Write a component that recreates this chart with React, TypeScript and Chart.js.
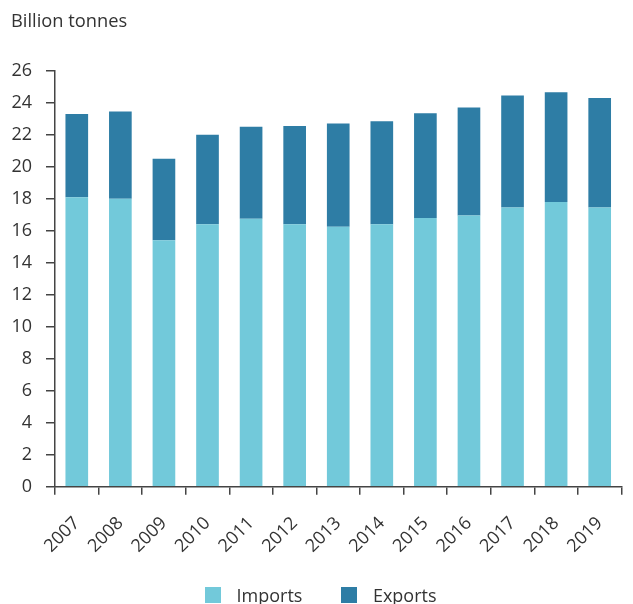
import React, { useEffect, useRef } from "react";
import { Chart, registerables } from "chart.js";

Chart.register(...registerables);

const years = ["2007", "2008", "2009", "2010", "2011", "2012", "2013", "2014", "2015", "2016", "2017", "2018", "2019"];
const imports = [18.1, 18.0, 15.4, 16.4, 16.75, 16.4, 16.25, 16.4, 16.8, 16.95, 17.45, 17.8, 17.45];
const exports = [5.2, 5.45, 5.1, 5.6, 5.75, 6.15, 6.45, 6.45, 6.55, 6.75, 7.0, 6.85, 6.85];
const yTicks = [0, 2, 4, 6, 8, 10, 12, 14, 16, 18, 20, 22, 24, 26];
const seriesNames = ["Imports", "Exports"];
const seriesColors = ["#72c9da", "#2e7da5"];

const FONT = "'Open Sans', 'Noto Sans', sans-serif";
const TEXT = "#333333";
const AXIS = "#444444";

export default function App() {
  const ref = useRef<HTMLCanvasElement>(null);
  useEffect(() => {
    if (!ref.current) return;
    const chart = new Chart(ref.current, {
      type: "bar",
      data: {
        labels: years,
        datasets: [
          { label: seriesNames[0], data: imports, backgroundColor: seriesColors[0], barPercentage: 0.52, categoryPercentage: 1 },
          { label: seriesNames[1], data: exports, backgroundColor: seriesColors[1], barPercentage: 0.52, categoryPercentage: 1 },
        ],
      },
      options: {
        responsive: false,
        animation: false,
        layout: { padding: { left: 11, right: 1, top: 0, bottom: 0 } },
        plugins: {
          title: {
            display: true,
            text: "Billion tonnes",
            align: "start",
            color: TEXT,
            font: { family: FONT, size: 18.3, weight: "normal" },
            padding: { top: 11, bottom: 37.8 },
          },
          legend: { display: false },
          tooltip: { enabled: false },
        },
        scales: {
          x: {
            stacked: true,
            grid: { display: true, drawOnChartArea: false, offset: true, tickLength: 8, color: AXIS, lineWidth: 1.5 },
            border: { display: true, color: AXIS, width: 1.5 },
            ticks: {
              color: TEXT,
              font: { family: FONT, size: 18 },
              maxRotation: 45,
              minRotation: 45,
              padding: 18,
            },
            afterFit: (s: any) => {
              s.height = 117.3;
            },
          },
          y: {
            stacked: true,
            min: 0,
            max: 26,
            afterBuildTicks: (s: any) => {
              s.ticks = yTicks.map((v) => ({ value: v }));
            },
            grid: { display: true, drawOnChartArea: false, tickLength: 9, color: AXIS, lineWidth: 1.5 },
            border: { display: true, color: AXIS, width: 1.5 },
            ticks: {
              color: TEXT,
              font: { family: FONT, size: 18 },
              padding: 14,
            },
            afterFit: (s: any) => {
              s.width = 44;
            },
          },
        },
      },
    });
    return () => chart.destroy();
  }, []);
  return (
    <div style={{ position: "absolute", left: 0, top: 0, width: 633, height: 604, background: "#fff" }}>
      <canvas ref={ref} width={633} height={604} style={{ display: "block" }} />
      <div
        style={{
          position: "absolute",
          left: 205,
          top: 587,
          height: 16,
          display: "flex",
          alignItems: "center",
          fontFamily: FONT,
          fontSize: 18,
          color: TEXT,
          whiteSpace: "nowrap",
        }}
      >
        {seriesNames.map((n, i) => (
          <div key={n} style={{ display: "flex", alignItems: "center", marginRight: i === 0 ? 39 : 0 }}>
            <span style={{ display: "inline-block", width: 16, height: 16, background: seriesColors[i], marginRight: 15.5 }} />
            <span style={{ lineHeight: "16px" }}>{n}</span>
          </div>
        ))}
      </div>
    </div>
  );
}
